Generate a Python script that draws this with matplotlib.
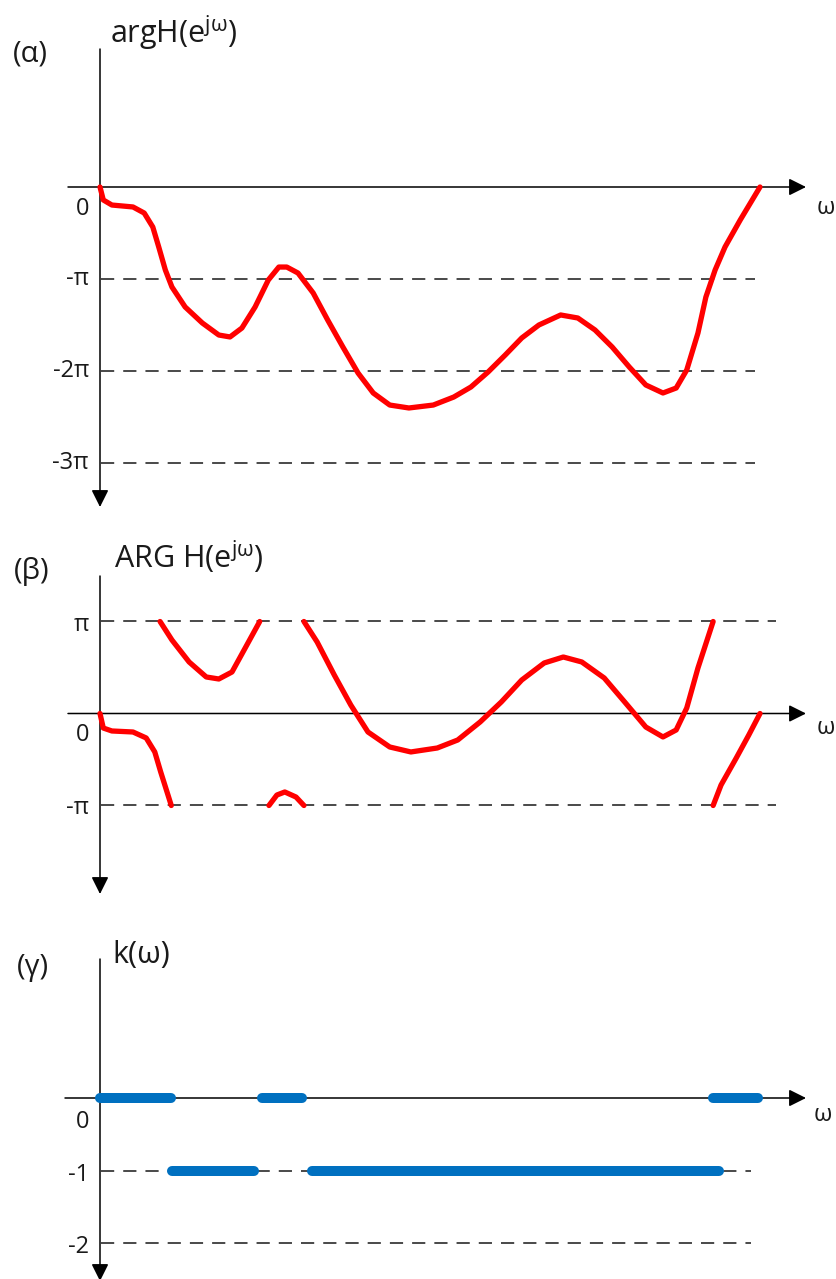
import matplotlib
matplotlib.use("Agg")
import matplotlib.pyplot as plt

plt.rcParams['font.family'] = ['Open Sans', 'DejaVu Sans']
plt.rcParams['mathtext.fontset'] = 'custom'
plt.rcParams['mathtext.rm'] = 'Open Sans'
plt.rcParams['mathtext.it'] = 'Open Sans:italic'
plt.rcParams['lines.scale_dashes'] = False

# omega in units of pi (0 .. 1), phase in units of pi
w_arg = [0, .005, .018, .050, .067, .080, .089, .099, .109, .129,
         .155, .180, .197, .215, .235, .255, .271, .283, .300, .323,
         .345, .368, .391, .414, .439, .468, .505, .536, .562, .588,
         .614, .639, .665, .698, .724, .750, .776, .802, .827, .853,
         .873, .889, .906, .918, .932, .947, .970, 1.0]
arg = [0, -.141, -.196, -.217, -.283, -.435, -.652, -.902, -1.087, -1.304,
       -1.478, -1.609, -1.630, -1.533, -1.304, -1.011, -.870, -.870, -.935, -1.152,
       -1.446, -1.739, -2.022, -2.239, -2.370, -2.402, -2.370, -2.283, -2.174, -2.011,
       -1.826, -1.641, -1.500, -1.391, -1.424, -1.554, -1.739, -1.957, -2.152, -2.239,
       -2.185, -1.989, -1.587, -1.196, -.902, -.652, -.359, 0]

# principal value ARG, drawn as separate branches
w_ARG1 = [0, .005, .018, .050, .070, .083, .092, .103, .108]
ARG1 = [0, -.158, -.190, -.201, -.266, -.418, -.636, -.886, -1.0]
w_ARG2 = [.091, .109, .135, .161, .180, .200, .220, .242]
ARG2 = [1.0, .799, .560, .397, .375, .451, .712, 1.0]
w_ARG3 = [.256, .268, .280, .297, .309]
ARG3 = [-1.0, -.886, -.853, -.908, -1.0]
w_ARG4 = [.309, .329, .355, .380, .406, .439, .471, .511, .542, .576,
          .608, .639, .673, .702, .730, .764, .795, .827, .853, .873,
          .889, .906, .929]
ARG4 = [1.0, .777, .418, .092, -.201, -.364, -.418, -.375, -.288, -.092,
        .125, .364, .549, .614, .560, .386, .125, -.147, -.255, -.179,
        .060, .495, 1.0]
w_ARG5 = [.929, .941, .964, .983, 1.0]
ARG5 = [-1.0, -.777, -.484, -.234, 0]
ARG_branches = [(w_ARG1, ARG1), (w_ARG2, ARG2), (w_ARG3, ARG3),
                (w_ARG4, ARG4), (w_ARG5, ARG5)]

# k(omega): (start, end, value)
k_start = [0, 0.109, 0.245, 0.321, 0.929]
k_end = [0.108, 0.233, 0.306, 0.938, 0.997]
k_val = [0, -1, 0, -1, 0]

W, H = 836, 1279
X0, XU = 100, 660
INK = '#1a1a1a'
RED = '#ff0000'
BLUE = '#0070c0'

fig = plt.figure(figsize=(W / 100, H / 100), dpi=100)


def wx(px):
    return (px - X0) / XU


def panel(top, bottom, zero, unit):
    ax = fig.add_axes([0, 1 - bottom / H, 1, (bottom - top) / H])
    ax.set_xlim(-X0 / XU, (W - X0) / XU)
    ax.set_ylim(-(bottom - zero) / unit, (zero - top) / unit)
    ax.axis('off')
    vy = lambda py: -(py - zero) / unit
    return ax, vy


def arrow(ax, start, tip):
    ax.annotate('', xy=tip, xytext=start, annotation_clip=False,
                arrowprops=dict(arrowstyle='-|>', mutation_scale=26, lw=1.1,
                                color='black', shrinkA=0, shrinkB=0))


def dashed(ax, y, x_end):
    ax.plot([wx(101), wx(x_end)], [y, y], color='#3a3a3a', lw=1.3,
            dashes=(9.5, 6.5), zorder=1)


def labels(ax, vy, items):
    for txt, py in items:
        ax.text(wx(89), vy(py), txt, ha='right', va='center',
                fontsize=17, color=INK, clip_on=False)


def red(ax, w, v):
    ax.plot(w, v, color=RED, lw=3.8, solid_capstyle='round',
            solid_joinstyle='round', zorder=3)


# (alpha) unwrapped phase
ax, vy = panel(0, 530, 187, 92)
arrow(ax, (wx(68), 0), (wx(806), 0))
arrow(ax, (0, vy(49)), (0, vy(507)))
for lev in [-1, -2, -3]:
    dashed(ax, lev, 755)
red(ax, w_arg, arg)
labels(ax, vy, [('0', 209), ('-π', 279), ('-2π', 371), ('-3π', 463)])
ax.text(wx(13), vy(61), '(α)', fontsize=21, color=INK, va='baseline')
ax.text(wx(110), vy(43), r'argH(e$^{\mathrm{j\omega}}$)', fontsize=22,
        color=INK, va='baseline')
ax.text(wx(817), vy(208), 'ω', fontsize=17, color=INK, va='center')

# (beta) principal value
ax, vy = panel(530, 920, 713.5, 92)
arrow(ax, (wx(68), 0), (wx(806), 0))
arrow(ax, (0, vy(576)), (0, vy(894)))
for lev in [1, -1]:
    dashed(ax, lev, 776)
for bw, bv in ARG_branches:
    red(ax, bw, bv)
labels(ax, vy, [('π', 625), ('0', 735), ('-π', 808)])
ax.text(wx(14), vy(579), '(β)', fontsize=21, color=INK, va='baseline')
ax.text(wx(114), vy(568), r'ARG H(e$^{\mathrm{j\omega}}$)', fontsize=22,
        color=INK, va='baseline')
ax.text(wx(817), vy(728), 'ω', fontsize=17, color=INK, va='center')

# (gamma) k(omega)
ax, vy = panel(920, 1279, 1098, 72.5)
arrow(ax, (wx(65), 0), (wx(806), 0))
arrow(ax, (0, vy(959)), (0, vy(1281)))
for lev in [-1, -2]:
    dashed(ax, lev, 751)
for a, b, k in zip(k_start, k_end, k_val):
    ax.plot([a, b], [k, k], color=BLUE, lw=7.2, solid_capstyle='round', zorder=3)
labels(ax, vy, [('0', 1122), ('-1', 1175), ('-2', 1247)])
ax.text(wx(17), vy(975), '(γ)', fontsize=21, color=INK, va='baseline')
ax.text(wx(112), vy(963), 'k(ω)', fontsize=22, color=INK, va='baseline')
ax.text(wx(814), vy(1115), 'ω', fontsize=17, color=INK, va='center')

fig.savefig('out.png', dpi=100)
